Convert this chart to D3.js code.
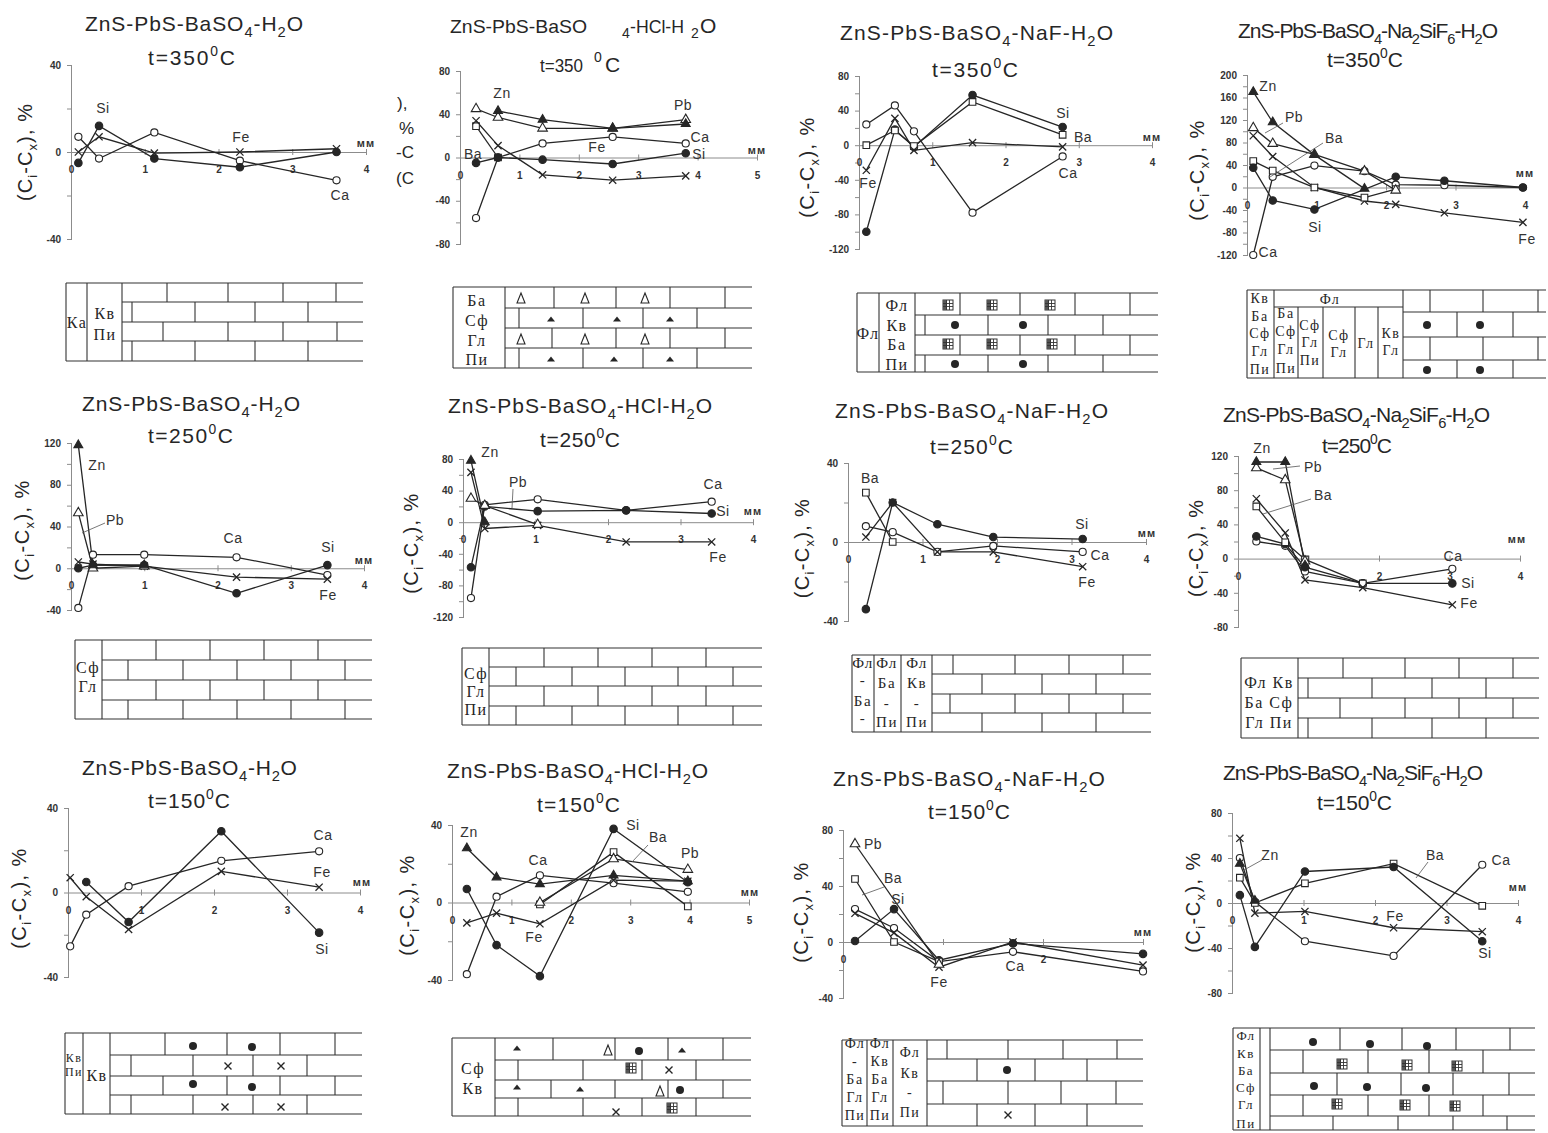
<!DOCTYPE html>
<html><head><meta charset="utf-8">
<script src="https://cdn.jsdelivr.net/npm/d3@7"></script>
<style>body{margin:0;background:#fff}svg{display:block}</style>
</head><body>
<svg id="chart" width="1548" height="1133"></svg>
<script>
// ---------------- DATA ----------------
const elements = ["Zn", "Pb", "Ba", "Ca", "Si", "Fe"];
const temps = ["350","350","350","350","250","250","250","250","150","150","150","150"];
const segH2O = ["ZnS-PbS-BaSO", "_4", "-H", "_2", "O"];
const segNaF = ["ZnS-PbS-BaSO", "_4", "-NaF-H", "_2", "O"];
const segHCl = ["ZnS-PbS-BaSO", "_4", "-HCl-H", "_2", "O"];
const segNa2SiF6 = ["ZnS-PbS-BaSO", "_4", "-Na", "_2", "SiF", "_6", "-H", "_2", "O"];

// row 1, t=350
const p1XTicks = [0, 1, 2, 3, 4];
const p1YTicks = [-40, 0, 40];
const p1Ca = [[0.1, 7], [0.38, -3], [1.13, 9], [2.29, -4], [3.6, -13]];
const p1Fe = [[0.1, 0], [0.38, 7], [1.13, -0.5], [2.29, 0], [3.6, 1.5]];
const p1Si = [[0.1, -5], [0.38, 12], [1.13, -3], [2.29, -7], [3.6, 0]];

const p2XTicks = [0, 1, 2, 3, 4, 5];
const p2YTicks = [-80, -40, 0, 40, 80];
const p2Zn = [[0.64, 43], [1.39, 35], [2.57, 27], [3.8, 31]];
const p2Pb = [[0.27, 45], [0.64, 37], [1.39, 27], [2.57, 27], [3.8, 35]];
const p2Fe = [[0.27, 34], [0.64, 11], [1.39, -16], [2.57, -21], [3.8, -17]];
const p2Ba = [[0.27, 29], [0.64, 0]];
const p2Ca = [[0.27, -56], [0.64, 0], [1.39, 13], [2.57, 19], [3.8, 13]];
const p2Si = [[0.27, -5], [0.64, 0], [1.39, -2], [2.57, -6], [3.8, 4]];

const p3XTicks = [0, 1, 2, 3, 4];
const p3YTicks = [-120, -80, -40, 0, 40, 80];
const p3Ca = [[0.1, 24], [0.49, 46], [0.75, 16], [1.55, -78], [2.78, -13]];
const p3Si = [[0.1, -100], [0.49, 18], [0.75, -2], [1.55, 58], [2.78, 21]];
const p3Ba = [[0.1, 0], [0.49, 17], [0.75, -1], [1.55, 50], [2.78, 12]];
const p3Fe = [[0.1, -29], [0.49, 31], [0.75, -6], [1.55, 3], [2.78, -2]];

const p4XTicks = [0, 1, 2, 3, 4];
const p4YTicks = [-120, -80, -40, 0, 40, 80, 120, 160, 200];
const p4Zn = [[0.09, 170], [0.37, 116], [0.97, 58], [1.69, -2]];
const p4Pb = [[0.09, 106], [0.37, 78], [0.97, 59], [1.69, 29], [2.14, -5]];
const p4Ca = [[0.09, -120], [0.37, 19], [0.97, 39], [1.69, 29], [2.14, 5], [2.84, 4], [3.97, 0]];
const p4Fe = [[0.09, 92], [0.37, 55], [0.97, 0], [1.69, -24], [2.14, -30], [2.84, -45], [3.97, -62]];
const p4Ba = [[0.09, 47], [0.37, 30], [0.97, 0], [1.69, -18], [2.14, -3]];
const p4Si = [[0.09, 35], [0.37, -23], [0.97, -39], [2.14, 19], [2.84, 12], [3.97, 0]];

// row 2, t=250
const p5XTicks = [0, 1, 2, 3, 4];
const p5YTicks = [-40, 0, 40, 80, 120];
const p5Zn = [[0.1, 118], [0.3, 3], [1.0, 3]];
const p5Pb = [[0.1, 53], [0.3, 0], [1.0, 2]];
const p5Ca = [[0.1, -38], [0.3, 13], [1.0, 13], [2.26, 10.5], [3.5, -6.5]];
const p5Fe = [[0.1, 6], [0.3, 4], [1.0, 2], [2.26, -8.5], [3.5, -10.5]];
const p5Si = [[0.1, 0], [0.3, 3], [1.0, 3], [2.26, -24], [3.5, 3]];

const p6XTicks = [0, 1, 2, 3, 4];
const p6YTicks = [-120, -80, -40, 0, 40, 80];
const p6Zn = [[0.11, 78], [0.3, 0]];
const p6Fe = [[0.11, 63], [0.3, -8], [1.03, -4], [2.25, -25], [3.43, -25]];
const p6Pb = [[0.11, 30], [0.3, 21], [1.03, -3]];
const p6Si = [[0.11, -57], [0.3, 20], [1.03, 14], [2.25, 15], [3.43, 11]];
const p6Ca = [[0.11, -96], [0.3, 22], [1.03, 29], [2.25, 15], [3.43, 26]];

const p7XTicks = [0, 1, 2, 3, 4];
const p7YTicks = [-40, 0, 40];
const p7Ba = [[0.24, 25], [0.6, 0]];
const p7Ca = [[0.24, 8], [0.6, 5], [1.2, -5], [1.95, -2], [3.15, -5]];
const p7Fe = [[0.24, 2.5], [0.6, 20], [1.2, -5], [1.95, -5], [3.15, -12.5]];
const p7Si = [[0.24, -34], [0.6, 20], [1.2, 9], [1.95, 2.5], [3.15, 1.5]];

const p8XTicks = [0, 2, 3, 4];
const p8YTicks = [-80, -40, 0, 40, 80, 120];
const p8Zn = [[0.26, 113], [0.67, 113], [0.95, -8]];
const p8Pb = [[0.26, 106], [0.67, 92], [0.95, -3]];
const p8Fe = [[0.26, 70], [0.67, 30], [0.95, -25], [1.77, -34], [3.04, -54]];
const p8Ba = [[0.26, 61], [0.67, 19], [0.95, -1], [1.77, -29]];
const p8Si = [[0.26, 26], [0.67, 17], [0.95, -10], [1.77, -29], [3.04, -29]];
const p8Ca = [[0.26, 20], [0.67, 15], [0.95, -15], [1.77, -29], [3.04, -12]];

// row 3, t=150
const p9XTicks = [0, 1, 2, 3, 4];
const p9YTicks = [-40, 0, 40];
const p9Si = [[0.25, 5], [0.83, -14], [2.1, 29], [3.44, -19]];
const p9Fe = [[0.03, 7], [0.25, -2], [0.83, -17.5], [2.1, 10], [3.44, 2.5]];
const p9Ca = [[0.03, -25.5], [0.25, -10.5], [0.83, 3], [2.1, 15], [3.44, 19.5]];

const p10XTicks = [0, 1, 2, 3, 4, 5];
const p10YTicks = [-40, 0, 40];
const p10Zn = [[0.25, 28], [0.75, 13], [1.48, 9.5], [2.72, 14], [3.97, 11]];
const p10Si = [[0.25, 7], [0.75, -22], [1.48, -38], [2.72, 38], [3.97, 10.5]];
const p10Ca = [[0.25, -37], [0.75, 3], [1.48, 14], [2.72, 10], [3.97, 5.5]];
const p10Fe = [[0.25, -10.5], [0.75, -5.5], [1.48, -11], [2.72, 11.5], [3.97, 11]];
const p10Ba = [[1.48, -1], [2.72, 26], [3.97, -2]];
const p10Pb = [[1.48, 0], [2.72, 22.5], [3.97, 17]];

const p11XTicks = [0, 2];
const p11YTicks = [-40, 0, 40, 80];
const p11Pb = [[0.12, 70], [0.96, -16]];
const p11Ba = [[0.12, 45], [0.51, 0], [0.96, -14]];
const p11Ca = [[0.12, 23.5], [0.51, 10], [0.96, -14], [1.7, -7], [3.0, -21]];
const p11Fe = [[0.12, 20.5], [0.51, 6.5], [0.96, -18], [1.7, 0], [3.0, -16.5]];
const p11Si = [[0.12, 0.7], [0.51, 23.5], [0.96, -13], [1.7, -1], [3.0, -8.5]];

const p12XTicks = [0, 1, 2, 3, 4];
const p12YTicks = [-80, -40, 0, 40, 80];
const p12Fe = [[0.11, 57.5], [0.32, -9], [1.02, -7.5], [2.26, -22], [3.5, -25.5]];
const p12Zn = [[0.11, 35], [0.32, 2]];
const p12Ca = [[0.11, 40], [0.32, 1], [1.02, -34], [2.26, -47], [3.5, 34]];
const p12Ba = [[0.11, 22.5], [0.32, 0], [1.02, 17.5], [2.26, 35], [3.5, -2.5]];
const p12Si = [[0.11, 7], [0.32, -39], [1.02, 28], [2.26, 32], [3.5, -34]];

// ---------------- LAYOUT ----------------
const panels = [
 { title: segH2O, t1: [85, 303, 31], t2: [148, 235, 65], temp: temps[0],
   xd: [0, 4], xr: [71, 366], yd: [-40, 40], yr: [239, 65], xTicks: p1XTicks, yTicks: p1YTicks,
   ylab: [25, 152, 97],
   series: [["Ca", p1Ca], ["Fe", p1Fe], ["Si", p1Si]],
   labels: [["Si", 103, 108], ["Fe", 241, 137], ["Ca", 340, 195], ["мм", 366, 143]], leaders: [],
   brick: { x0: 66, x1: 363, rows: [283, 302, 322, 341, 361], cols: [87, 122], bx: 122,
     bricks: [[167, 228, 283, 336], [132, 195, 255, 308], [163, 228, 283, 337], [132, 195, 255, 308]],
     labels: [["Ка", 77, 322], ["Кв", 105, 313], ["Пи", 105, 334]], syms: [] } },
 { free: [["ZnS-PbS-BaSO", 450, 33, 137, 19], ["4", 622, 38, 0, 14], ["-HCl-H", 630, 33, 54, 18], ["2", 691, 38, 0, 14], ["O", 700, 33],
          ["t=350", 540, 72, 43, 18], ["0", 594, 62, 0, 14], ["C", 605, 72]],
   xd: [0, 5], xr: [460, 757], yd: [-80, 80], yr: [244, 71], xTicks: p2XTicks, yTicks: p2YTicks,
   yfree: [["),", 397, 109], ["%", 399, 134], ["-C", 396, 158], ["(C", 396, 184]],
   series: [["Ba", p2Ba], ["Ca", p2Ca], ["Si", p2Si], ["Fe", p2Fe], ["Pb", p2Pb], ["Zn", p2Zn]],
   labels: [["Zn", 502, 93], ["Pb", 683, 105], ["Ba", 473, 154], ["Fe", 597, 147], ["Ca", 700, 137], ["Si", 699, 154], ["мм", 757, 150]], leaders: [],
   brick: { x0: 453, x1: 752, rows: [287, 308, 328, 348, 368], cols: [505], bx: 505,
     bricks: [[554, 616, 670, 725], [519, 583, 643, 697], [552, 616, 670, 725], [519, 583, 643, 697]],
     labels: [["Ба", 477, 300], ["Сф", 477, 320], ["Гл", 477, 340], ["Пи", 477, 359]],
     syms: [["delta", 521, 298], ["delta", 585, 298], ["delta", 645, 298], ["tri", 551, 319], ["tri", 617, 319], ["tri", 670, 319],
            ["delta", 521, 339], ["delta", 585, 339], ["delta", 645, 339], ["tri", 551, 359], ["tri", 614, 359], ["tri", 670, 359]] } },
 { title: segNaF, t1: [840, 1113, 40], t2: [932, 1018, 77], temp: temps[2],
   xd: [0, 4], xr: [859, 1152], yd: [-120, 80], yr: [249, 76], xTicks: p3XTicks, yTicks: p3YTicks,
   ylab: [807, 167, 100],
   series: [["Ca", p3Ca], ["Si", p3Si], ["Ba", p3Ba], ["Fe", p3Fe]],
   labels: [["Fe", 868, 183], ["Si", 1063, 113], ["Ba", 1083, 137], ["Ca", 1068, 173], ["мм", 1152, 137]], leaders: [],
   brick: { x0: 857, x1: 1158, rows: [293, 315, 335, 355, 372], cols: [879, 915], bx: 915,
     bricks: [[960, 1020, 1075, 1130], [925, 988, 1048, 1103], [960, 1020, 1075, 1130], [925, 988, 1048, 1103]],
     labels: [["Фл", 868, 333], ["Фл", 897, 305], ["Кв", 897, 325], ["Ба", 897, 344], ["Пи", 897, 364]],
     syms: [["grid", 948, 305], ["grid", 992, 305], ["grid", 1050, 305], ["dot", 955, 325], ["dot", 1023, 325],
            ["grid", 948, 344], ["grid", 992, 344], ["grid", 1052, 344], ["dot", 955, 364], ["dot", 1023, 364]] } },
 { title: segNa2SiF6, t1: [1238, 1498, 38], t2: [1327, 1403, 67], temp: temps[3],
   xd: [0, 4], xr: [1247, 1525], yd: [-120, 200], yr: [255, 75], xTicks: p4XTicks, yTicks: p4YTicks,
   ylab: [1197, 170, 100],
   series: [["Ca", p4Ca], ["Fe", p4Fe], ["Ba", p4Ba], ["Si", p4Si], ["Pb", p4Pb], ["Zn", p4Zn]],
   labels: [["Zn", 1268, 86], ["Pb", 1294, 117], ["Ba", 1334, 138], ["Si", 1315, 227], ["Ca", 1268, 252], ["Fe", 1527, 239], ["мм", 1525, 173]],
   leaders: [[1283, 123, 1265, 133], [1323, 143, 1270, 177]],
   brick: { x0: 1247, x1: 1546, rows: [290, 312, 337, 360, 378], cols: [1274, 1403], bx: 1403,
     bricks: [[1430, 1483, 1538], [1457, 1513], [1430, 1483, 1538], [1457, 1513]],
     segs: [[1274, 307, 1403, 307], [1298, 307, 1298, 378], [1323, 307, 1323, 378], [1355, 307, 1355, 378], [1378, 307, 1378, 378]],
     labels: [["Фл", 1330, 299], ["Кв", 1260, 298], ["Ба", 1260, 316], ["Сф", 1260, 333], ["Гл", 1260, 351], ["Пи", 1260, 369],
              ["Ба", 1286, 313], ["Сф", 1286, 331], ["Гл", 1286, 349], ["Пи", 1286, 368],
              ["Сф", 1310, 325], ["Гл", 1310, 342], ["Пи", 1310, 360],
              ["Сф", 1339, 335], ["Гл", 1339, 352], ["Гл", 1366, 343], ["Кв", 1391, 333], ["Гл", 1391, 350]],
     lsize: 14,
     syms: [["dot", 1427, 325], ["dot", 1480, 325], ["dot", 1427, 370], ["dot", 1480, 370]] } },
 { title: segH2O, t1: [82, 300, 411], t2: [148, 233, 443], temp: temps[4],
   xd: [0, 4], xr: [71, 364], yd: [-40, 120], yr: [610, 443], xTicks: p5XTicks, yTicks: p5YTicks,
   ylab: [22, 530, 100],
   series: [["Ca", p5Ca], ["Fe", p5Fe], ["Si", p5Si], ["Pb", p5Pb], ["Zn", p5Zn]],
   labels: [["Zn", 97, 465], ["Pb", 115, 520], ["Ca", 233, 538], ["Si", 328, 547], ["Fe", 328, 595], ["мм", 364, 560]],
   leaders: [[105, 523, 82, 533]],
   brick: { x0: 75, x1: 372, rows: [640, 660, 680, 700, 719], cols: [102], bx: 102,
     bricks: [[156, 210, 264, 318], [128, 183, 237, 291, 345], [156, 210, 264, 318], [128, 183, 237, 291, 345]],
     labels: [["Сф", 88, 667], ["Гл", 88, 686]], syms: [] } },
 { title: segHCl, t1: [448, 712, 413], t2: [540, 620, 447], temp: temps[5],
   xd: [0, 4], xr: [463, 753], yd: [-120, 80], yr: [617, 459], xTicks: p6XTicks, yTicks: p6YTicks,
   ylab: [411, 543, 100],
   series: [["Ca", p6Ca], ["Si", p6Si], ["Fe", p6Fe], ["Pb", p6Pb], ["Zn", p6Zn]],
   labels: [["Zn", 490, 452], ["Pb", 518, 482], ["Ca", 713, 484], ["Si", 723, 511], ["Fe", 718, 557], ["мм", 753, 511]],
   leaders: [[513, 489, 512, 508]],
   brick: { x0: 462, x1: 762, rows: [648, 667, 686, 706, 725], cols: [489], bx: 489,
     bricks: [[544, 598, 652, 706], [516, 572, 625, 678, 733], [544, 598, 652, 706], [516, 572, 625, 678, 733]],
     labels: [["Сф", 476, 673], ["Гл", 476, 691], ["Пи", 476, 709]], syms: [] } },
 { title: segNaF, t1: [835, 1108, 418], t2: [930, 1013, 454], temp: temps[6],
   xd: [0, 4], xr: [848, 1146], yd: [-40, 40], yr: [621, 463], xTicks: p7XTicks, yTicks: p7YTicks,
   ylab: [802, 548, 99],
   series: [["Ba", p7Ba], ["Ca", p7Ca], ["Fe", p7Fe], ["Si", p7Si]],
   labels: [["Ba", 870, 478], ["Si", 1082, 524], ["Ca", 1100, 555], ["Fe", 1087, 582], ["мм", 1147, 533]], leaders: [],
   brick: { x0: 852, x1: 1151, rows: [655, 674, 694, 713, 732], cols: [874, 901, 932], bx: 932,
     bricks: [[953, 1015, 1069, 1123], [982, 1042, 1096], [950, 1015, 1069, 1123], [982, 1042, 1096]],
     labels: [["Фл", 863, 663], ["-", 863, 680], ["Ба", 863, 701], ["-", 863, 718],
              ["Фл", 887, 663], ["Ба", 887, 683], ["-", 887, 703], ["Пи", 887, 722],
              ["Фл", 917, 663], ["Кв", 917, 683], ["-", 917, 703], ["Пи", 917, 722]], lsize: 15, syms: [] } },
 { title: segNa2SiF6, t1: [1223, 1490, 422], t2: [1322, 1392, 453], temp: temps[7],
   xd: [0, 4], xr: [1238, 1520], yd: [-80, 120], yr: [627, 456], xTicks: p8XTicks, yTicks: p8YTicks,
   ylab: [1196, 548, 97],
   series: [["Ca", p8Ca], ["Si", p8Si], ["Ba", p8Ba], ["Fe", p8Fe], ["Pb", p8Pb], ["Zn", p8Zn]],
   labels: [["Zn", 1262, 448], ["Pb", 1313, 467], ["Ba", 1323, 495], ["Ca", 1453, 556], ["Si", 1468, 583], ["Fe", 1469, 603], ["мм", 1517, 539]],
   leaders: [[1300, 466, 1273, 469], [1311, 499, 1263, 514]],
   brick: { x0: 1241, x1: 1539, rows: [658, 678, 698, 718, 738], cols: [1298], bx: 1298,
     bricks: [[1343, 1405, 1459, 1513], [1308, 1372, 1432, 1486], [1340, 1405, 1459, 1513], [1308, 1372, 1432, 1486]],
     labels: [["Фл Кв", 1269, 682], ["Ба Сф", 1269, 702], ["Гл Пи", 1269, 722]], syms: [] } },
 { title: segH2O, t1: [82, 297, 775], t2: [148, 230, 808], temp: temps[8],
   xd: [0, 4], xr: [68, 360], yd: [-40, 40], yr: [977, 808], xTicks: p9XTicks, yTicks: p9YTicks,
   ylab: [19, 898, 100],
   series: [["Ca", p9Ca], ["Fe", p9Fe], ["Si", p9Si]],
   labels: [["Ca", 323, 835], ["Fe", 322, 872], ["Si", 322, 949], ["мм", 362, 882]], leaders: [],
   brick: { x0: 65, x1: 362, rows: [1033, 1055, 1076, 1095, 1114], cols: [83, 110], bx: 110,
     bricks: [[165, 227, 280, 335], [131, 193, 253, 307], [163, 227, 280, 335], [131, 193, 253, 307]],
     labels: [["Кв", 74, 1058, 12], ["Пи", 74, 1072, 12], ["Кв", 97, 1075]],
     syms: [["dot", 193, 1046], ["dot", 252, 1047], ["x", 228, 1066], ["x", 281, 1066],
            ["dot", 193, 1084], ["dot", 252, 1087], ["x", 225, 1107], ["x", 281, 1107]] } },
 { title: segHCl, t1: [447, 708, 778], t2: [537, 620, 812], temp: temps[9],
   xd: [0, 5], xr: [452, 749], yd: [-40, 40], yr: [980, 825], xTicks: p10XTicks, yTicks: p10YTicks,
   ylab: [407, 905, 100],
   series: [["Ca", p10Ca], ["Fe", p10Fe], ["Si", p10Si], ["Ba", p10Ba], ["Pb", p10Pb], ["Zn", p10Zn]],
   labels: [["Zn", 469, 832], ["Ca", 538, 860], ["Si", 633, 825], ["Ba", 658, 837], ["Pb", 690, 853], ["Fe", 534, 937], ["мм", 750, 892]],
   leaders: [[648, 845, 632, 862]],
   brick: { x0: 452, x1: 751, rows: [1038, 1060, 1080, 1098, 1116], cols: [495], bx: 495,
     bricks: [[553, 615, 668, 723], [518, 583, 642, 696], [551, 615, 668, 723], [518, 583, 642, 696]],
     labels: [["Сф", 473, 1068], ["Кв", 473, 1088]],
     syms: [["tri", 517, 1048], ["delta", 608, 1050], ["dot", 639, 1051], ["tri", 682, 1050], ["grid", 631, 1068], ["x", 669, 1070],
            ["tri", 517, 1087], ["tri", 580, 1089], ["delta", 660, 1091], ["dot", 680, 1090], ["x", 616, 1112], ["grid", 672, 1108]] } },
 { title: segNaF, t1: [833, 1105, 786], t2: [928, 1010, 819], temp: temps[10],
   xd: [0, 3], xr: [843, 1143], yd: [-40, 80], yr: [998, 830], xTicks: p11XTicks, yTicks: p11YTicks,
   ylab: [801, 912, 100],
   series: [["Ca", p11Ca], ["Fe", p11Fe], ["Si", p11Si], ["Ba", p11Ba], ["Pb", p11Pb]],
   labels: [["Pb", 873, 844], ["Ba", 893, 878], ["Si", 898, 899], ["Fe", 939, 982], ["Ca", 1015, 966], ["мм", 1143, 932]],
   leaders: [[884, 887, 862, 895]],
   brick: { x0: 842, x1: 1143, rows: [1040, 1059, 1081, 1104, 1126], cols: [867, 893, 927], bx: 927,
     bricks: [[947, 1008, 1063, 1117], [977, 1035, 1087], [943, 1008, 1061, 1116], [977, 1035, 1087]],
     labels: [["Фл", 855, 1043], ["-", 855, 1061], ["Ба", 855, 1079], ["Гл", 855, 1097], ["Пи", 855, 1115],
              ["Фл", 880, 1043], ["Кв", 880, 1061], ["Ба", 880, 1079], ["Гл", 880, 1097], ["Пи", 880, 1115],
              ["Фл", 910, 1052], ["Кв", 910, 1073], ["-", 910, 1092], ["Пи", 910, 1112]], lsize: 14,
     syms: [["dot", 1007, 1070], ["x", 1008, 1115]] } },
 { title: segNa2SiF6, t1: [1223, 1483, 780], t2: [1317, 1392, 810], temp: temps[11],
   xd: [0, 4], xr: [1232, 1518], yd: [-80, 80], yr: [993, 813], xTicks: p12XTicks, yTicks: p12YTicks,
   ylab: [1193, 902, 100],
   series: [["Fe", p12Fe], ["Ca", p12Ca], ["Ba", p12Ba], ["Si", p12Si], ["Zn", p12Zn]],
   labels: [["Zn", 1270, 855], ["Ba", 1435, 855], ["Ca", 1501, 860], ["Fe", 1395, 916], ["Si", 1485, 953], ["мм", 1518, 887]],
   leaders: [[1262, 860, 1244, 870], [1428, 862, 1416, 878]],
   brick: { x0: 1233, x1: 1535, rows: [1028, 1050, 1073, 1095, 1116, 1130], cols: [1260, 1270], bx: 1270,
     bricks: [[1340, 1402, 1456, 1510], [1303, 1368, 1429, 1483], [1337, 1401, 1453, 1509], [1303, 1368, 1429, 1483], [1333, 1398, 1453, 1507]],
     labels: [["Фл", 1246, 1035], ["Кв", 1246, 1053], ["Ба", 1246, 1070], ["Сф", 1246, 1087], ["Гл", 1246, 1104], ["Пи", 1246, 1123]], lsize: 13,
     syms: [["dot", 1313, 1042], ["dot", 1370, 1044], ["dot", 1427, 1046], ["grid", 1342, 1064], ["grid", 1407, 1065], ["grid", 1457, 1066],
            ["dot", 1314, 1086], ["dot", 1367, 1087], ["dot", 1426, 1088], ["grid", 1337, 1104], ["grid", 1405, 1105], ["grid", 1455, 1106]] } }
];

// ---------------- DRAWING ----------------
const svg = d3.select("#chart");
svg.append("rect").attr("width", 1548).attr("height", 1133).attr("fill", "#fff");
const SANS = "'Liberation Sans', Arial, Helvetica, sans-serif";
const SERIF = "'Liberation Serif', 'Times New Roman', serif";
const INK = "#262626";
const AXIS = "#8c8c8c";

function addRich(text, segs, size) {
  let cur = 0;
  segs.forEach(s => {
    let want = 0, fs = size, str = s;
    if (s[0] === "_") { want = size * 0.3; fs = size * 0.7; str = s.slice(1); }
    else if (s[0] === "^") { want = -size * 0.42; fs = size * 0.66; str = s.slice(1); }
    text.append("tspan").attr("dy", (want - cur).toFixed(2)).attr("font-size", fs).text(str);
    cur = want;
  });
}
function fit(text, target) {
  const n = text.node().getNumberOfChars();
  const w = text.node().getComputedTextLength();
  if (n > 1) text.attr("letter-spacing", ((target - w) / (n - 1)).toFixed(2));
}

const markerType = { Zn: "tri", Pb: "otri", Ba: "sq", Ca: "circ", Si: "dot", Fe: "x" };

function drawMarker(g, type, x, y) {
  if (type === "x") {
    g.append("path").attr("d", `M${x - 3.6},${y - 3.6}L${x + 3.6},${y + 3.6}M${x - 3.6},${y + 3.6}L${x + 3.6},${y - 3.6}`)
      .attr("stroke", INK).attr("stroke-width", 1.3).attr("fill", "none");
    return;
  }
  const sym = d3.symbol();
  let fill = INK, stroke = INK;
  if (type === "tri") sym.type(d3.symbolTriangle).size(34);
  if (type === "otri") { sym.type(d3.symbolTriangle).size(40); fill = "#fff"; }
  if (type === "sq") { sym.type(d3.symbolSquare).size(44); fill = "#fff"; }
  if (type === "circ") { sym.type(d3.symbolCircle).size(40); fill = "#fff"; }
  if (type === "dot") sym.type(d3.symbolCircle).size(44);
  g.append("path").attr("d", sym()).attr("transform", `translate(${x},${y})`)
    .attr("fill", fill).attr("stroke", stroke).attr("stroke-width", 1.1);
}

function drawBrickSym(g, s) {
  const [type, x, y] = s;
  if (type === "dot") g.append("circle").attr("cx", x).attr("cy", y).attr("r", 4).attr("fill", INK);
  else if (type === "x") g.append("path").attr("d", `M${x - 3.5},${y - 3.5}L${x + 3.5},${y + 3.5}M${x - 3.5},${y + 3.5}L${x + 3.5},${y - 3.5}`).attr("stroke", INK).attr("stroke-width", 1.4);
  else if (type === "tri") g.append("path").attr("d", `M${x - 4},${y + 2.5}L${x + 4},${y + 2.5}L${x},${y - 2.5}Z`).attr("fill", INK);
  else if (type === "delta") g.append("path").attr("d", `M${x - 4},${y + 5}L${x + 4},${y + 5}L${x},${y - 5}Z`).attr("fill", "none").attr("stroke", INK).attr("stroke-width", 1.1);
  else if (type === "grid") {
    const gg = g.append("g").attr("transform", `translate(${x - 5},${y - 5})`);
    gg.append("rect").attr("width", 10).attr("height", 10).attr("fill", "#fff").attr("stroke", "#333").attr("stroke-width", 1);
    gg.append("rect").attr("width", 4).attr("height", 10).attr("fill", "#555");
    [3.5, 6.5].forEach(v => {
      gg.append("line").attr("x1", v).attr("x2", v).attr("y1", 0).attr("y2", 10).attr("stroke", "#333").attr("stroke-width", 0.9);
      gg.append("line").attr("x1", 0).attr("x2", 10).attr("y1", v).attr("y2", v).attr("stroke", "#333").attr("stroke-width", 0.9);
    });
  }
}

function drawBrick(B) {
  const g = svg.append("g");
  const L = (x1, y1, x2, y2) => g.append("line").attr("x1", x1).attr("y1", y1).attr("x2", x2).attr("y2", y2)
    .attr("stroke", "#333").attr("stroke-width", 1.1);
  const top = B.rows[0], bot = B.rows[B.rows.length - 1];
  L(B.x0, top, B.x1, top);
  L(B.x0, bot, B.x1, bot);
  B.rows.slice(1, -1).forEach(y => L(B.bx, y, B.x1, y));
  L(B.x0, top, B.x0, bot);
  B.cols.forEach(x => L(x, top, x, bot));
  B.bricks.forEach((arr, i) => arr.forEach(x => L(x, B.rows[i], x, B.rows[i + 1])));
  (B.segs || []).forEach(s => L(s[0], s[1], s[2], s[3]));
  B.labels.forEach(l => {
    g.append("text").attr("x", l[1]).attr("y", l[2]).attr("dy", "0.35em").attr("text-anchor", "middle")
      .attr("font-family", SERIF).attr("font-size", l[3] || B.lsize || 16).attr("letter-spacing", 1.5)
      .attr("fill", INK).text(l[0]);
  });
  B.syms.forEach(s => drawBrickSym(g, s));
}

function drawPanel(P) {
  const g = svg.append("g");
  const xs = d3.scaleLinear().domain(P.xd).range(P.xr);
  const ys = d3.scaleLinear().domain(P.yd).range(P.yr);
  const tg = g.append("g").attr("font-family", SANS).attr("fill", INK);

  if (P.free) {
    P.free.forEach(f => {
      const t = tg.append("text").attr("x", f[1]).attr("y", f[2]).attr("font-size", f[4] || 21).text(f[0]);
      if (f[3]) t.attr("textLength", f[3]).attr("lengthAdjust", "spacingAndGlyphs");
    });
  } else {
    const t1 = tg.append("text").attr("x", P.t1[0]).attr("y", P.t1[2]).attr("font-size", 21);
    addRich(t1, P.title, 21); fit(t1, P.t1[1] - P.t1[0]);
    const t2 = tg.append("text").attr("x", P.t2[0]).attr("y", P.t2[2]).attr("font-size", 21);
    addRich(t2, ["t=" + P.temp, "^0", "C"], 21); fit(t2, P.t2[1] - P.t2[0]);
  }

  // y axis title
  if (P.yfree) {
    P.yfree.forEach(f => tg.append("text").attr("x", f[1]).attr("y", f[2]).attr("font-size", 17).text(f[0]));
  } else {
    const yl = tg.append("text").attr("transform", `translate(${P.ylab[0]},${P.ylab[1]}) rotate(-90)`)
      .attr("text-anchor", "middle").attr("font-size", 20);
    yl.append("tspan").attr("dy", "0.35em").text("(C");
    yl.append("tspan").attr("font-size", 13).attr("dy", 5).text("i");
    yl.append("tspan").attr("dy", -5).text("-C");
    yl.append("tspan").attr("font-size", 13).attr("dy", 5).text("x");
    yl.append("tspan").attr("dy", -5).text("), %");
    fit(yl, P.ylab[2]);
  }

  // axes
  const yAll = [];
  P.yTicks.forEach((v, i) => { yAll.push(v); if (i < P.yTicks.length - 1) yAll.push((v + P.yTicks[i + 1]) / 2); });
  const yAxis = d3.axisLeft(ys).tickValues(yAll).tickFormat(v => P.yTicks.includes(v) ? String(v) : "")
    .tickSizeInner(4).tickSizeOuter(0).tickPadding(6);
  const yg = g.append("g").attr("transform", `translate(${xs(0)},0)`).call(yAxis);
  yg.select(".domain").attr("stroke", AXIS).attr("stroke-width", 1);
  yg.selectAll(".tick line").attr("stroke", AXIS).attr("x1", 1).attr("x2", -4);
  yg.selectAll(".tick text").attr("font-family", SANS).attr("font-size", 10).attr("font-weight", "bold").attr("fill", "#333");

  const xAll = d3.range(0, P.xd[1] + 1);
  const xAxis = d3.axisBottom(xs).tickValues(xAll).tickFormat(v => P.xTicks.includes(v) ? String(v) : "")
    .tickSizeInner(3).tickSizeOuter(0).tickPadding(11);
  const xg = g.append("g").attr("transform", `translate(0,${ys(0)})`).call(xAxis);
  xg.select(".domain").attr("stroke", AXIS).attr("stroke-width", 1);
  xg.selectAll(".tick line").attr("stroke", AXIS).attr("y1", -3).attr("y2", 3);
  xg.selectAll(".tick text").attr("font-family", SANS).attr("font-size", 10).attr("font-weight", "bold").attr("fill", "#333");

  // lines
  const line = d3.line().x(d => xs(d[0])).y(d => ys(d[1]));
  const sg = g.append("g");
  P.series.forEach(([el, data]) => {
    sg.append("path").datum(data).attr("d", line).attr("fill", "none").attr("stroke", INK).attr("stroke-width", 1.3);
  });
  P.series.forEach(([el, data]) => data.forEach(d => drawMarker(sg, markerType[el], xs(d[0]), ys(d[1]))));

  // leaders & labels
  P.leaders.forEach(l => g.append("line").attr("x1", l[0]).attr("y1", l[1]).attr("x2", l[2]).attr("y2", l[3])
    .attr("stroke", "#555").attr("stroke-width", 0.8));
  P.labels.forEach(l => {
    const mm = l[0] === "мм";
    g.append("text").attr("x", l[1]).attr("y", l[2]).attr("dy", "0.35em").attr("text-anchor", "middle")
      .attr("font-family", SANS).attr("font-size", mm ? 11 : 14).attr("font-weight", mm ? "bold" : "normal")
      .attr("letter-spacing", mm ? 1 : 0.5).attr("fill", "#333").text(l[0]);
  });

  drawBrick(P.brick);
}

panels.forEach(drawPanel);
</script>
</body></html>
